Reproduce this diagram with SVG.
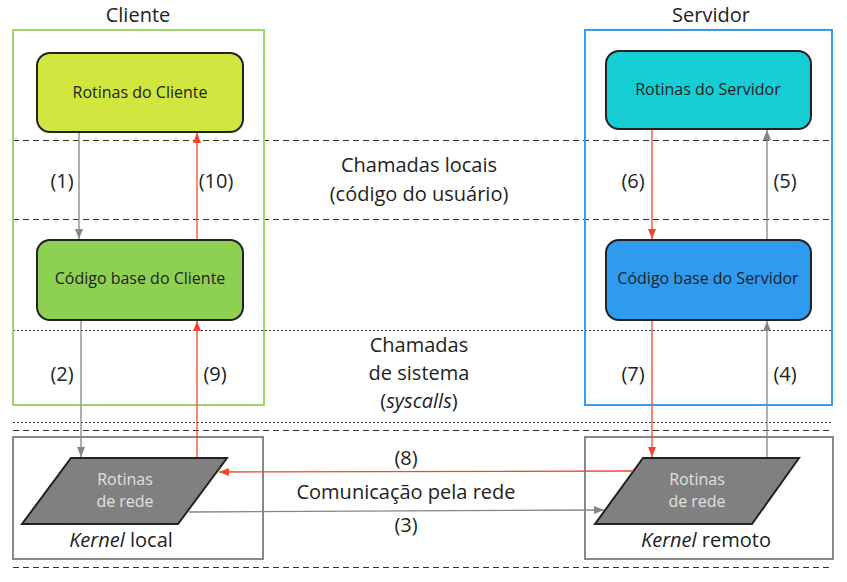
<svg xmlns="http://www.w3.org/2000/svg" width="847" height="582" viewBox="0 0 847 582">
<defs>
<marker id="ag" viewBox="0 0 10 10" refX="10" refY="5" markerWidth="10" markerHeight="10" markerUnits="userSpaceOnUse" orient="auto"><path d="M0,1 L10,5 L0,9 z" fill="#858585"/></marker>
<marker id="ar" viewBox="0 0 10 10" refX="10" refY="5" markerWidth="10" markerHeight="10" markerUnits="userSpaceOnUse" orient="auto"><path d="M0,1 L10,5 L0,9 z" fill="#f2472a"/></marker>
</defs>
<style>
text{font-family:"Open Sans","Noto Sans","DejaVu Sans",sans-serif;fill:#222;text-anchor:middle}
.t{font-size:20px}
.l{font-size:20px}
.n{font-size:16px}
.p{font-size:16px;fill:#e0e0e0}
.node{stroke:#222;stroke-width:2}
.sep{stroke:#333;stroke-width:1;fill:none}
.dash{stroke-dasharray:6,4}
.dot{stroke-dasharray:2,2}
.g{stroke:#858585;stroke-width:1.3;fill:none;marker-end:url(#ag)}
.r{stroke:#f2472a;stroke-width:1.3;fill:none;marker-end:url(#ar)}
.kbox{fill:none;stroke:#888;stroke-width:2}
</style>
<rect width="847" height="582" fill="#fff"/>
<g id="separators">
<line class="sep dash" x1="13" y1="140.5" x2="832" y2="140.5"/>
<line class="sep dash" x1="13" y1="219.5" x2="832" y2="219.5"/>
<line class="sep dot" x1="13" y1="330.5" x2="832" y2="330.5"/>
<line class="sep dot" x1="13" y1="422.5" x2="832" y2="422.5"/>
<line class="sep dash" x1="13" y1="430.5" x2="832" y2="430.5"/>
<line class="sep dash" x1="13" y1="567.5" x2="832" y2="567.5"/>
</g>
<g id="cliente">
<rect x="13" y="30" width="251" height="375" fill="none" stroke="#9dd56a" stroke-width="2"/>
<text class="t" x="138" y="22">Cliente</text>
</g>
<g id="servidor">
<rect x="585" y="30" width="247" height="375" fill="none" stroke="#3a9cee" stroke-width="2"/>
<text class="t" x="711" y="22">Servidor</text>
</g>
<g id="kernel-local">
<rect class="kbox" x="13" y="437" width="250" height="122"/>
<text class="t" x="121" y="547"><tspan font-style="italic">Kernel</tspan> local</text>
</g>
<g id="kernel-remoto">
<rect class="kbox" x="585" y="437" width="248" height="122"/>
<text class="t" x="706" y="547"><tspan font-style="italic">Kernel</tspan> remoto</text>
</g>
<g id="rotinas-cliente">
<rect class="node" x="37" y="53" width="206" height="79" rx="13" fill="#d1e63f"/>
<text class="n" x="140" y="98">Rotinas do Cliente</text>
</g>
<g id="rotinas-servidor">
<rect class="node" x="606" y="51" width="205" height="78" rx="13" fill="#15cdd4"/>
<text class="n" x="708" y="95">Rotinas do Servidor</text>
</g>
<g id="codigo-cliente">
<rect class="node" x="37" y="240" width="206" height="80" rx="13" fill="#8ed152"/>
<text class="n" x="140" y="284">Código base do Cliente</text>
</g>
<g id="codigo-servidor">
<rect class="node" x="606" y="240" width="205" height="80" rx="13" fill="#2e9bee"/>
<text class="n" x="708" y="284">Código base do Servidor</text>
</g>
<g id="rede-local">
<polygon class="node" points="71,458 227,458 178,524 22,524" fill="#808080"/>
<text class="p" x="125" y="485">Rotinas</text>
<text class="p" x="125" y="507">de rede</text>
</g>
<g id="rede-remota">
<polygon class="node" points="643,458 799,458 752,524 595,524" fill="#808080"/>
<text class="p" x="697" y="485">Rotinas</text>
<text class="p" x="697" y="507">de rede</text>
</g>
<g id="connectors">
<line class="g" x1="79" y1="133" x2="79" y2="239"/>
<line class="r" x1="197" y1="239" x2="197" y2="133"/>
<line class="g" x1="81" y1="321" x2="81" y2="457"/>
<line class="r" x1="197" y1="457" x2="197" y2="321"/>
<line class="r" x1="652" y1="130" x2="652" y2="239"/>
<line class="g" x1="767" y1="239" x2="767" y2="130"/>
<line class="r" x1="652" y1="321" x2="652" y2="457"/>
<line class="g" x1="767" y1="457" x2="767" y2="321"/>
<line class="r" x1="633" y1="471" x2="219" y2="472"/>
<line class="g" x1="189" y1="512" x2="604" y2="510"/>
</g>
<g id="labels">
<text class="l" x="62" y="188">(1)</text>
<text class="l" x="216" y="188">(10)</text>
<text class="l" x="62" y="381">(2)</text>
<text class="l" x="215" y="381">(9)</text>
<text class="l" x="633" y="188">(6)</text>
<text class="l" x="785" y="188">(5)</text>
<text class="l" x="633" y="381">(7)</text>
<text class="l" x="785" y="381">(4)</text>
<text class="l" x="406" y="465">(8)</text>
<text class="l" x="406" y="532">(3)</text>
<text class="l" x="406" y="499">Comunicação pela rede</text>
<text class="l" x="419" y="172">Chamadas locais</text>
<text class="l" x="419" y="201">(código do usuário)</text>
<text class="l" x="419" y="352">Chamadas</text>
<text class="l" x="419" y="380">de sistema</text>
<text class="l" x="419" y="408">(<tspan font-style="italic">syscalls</tspan>)</text>
</g>
</svg>
